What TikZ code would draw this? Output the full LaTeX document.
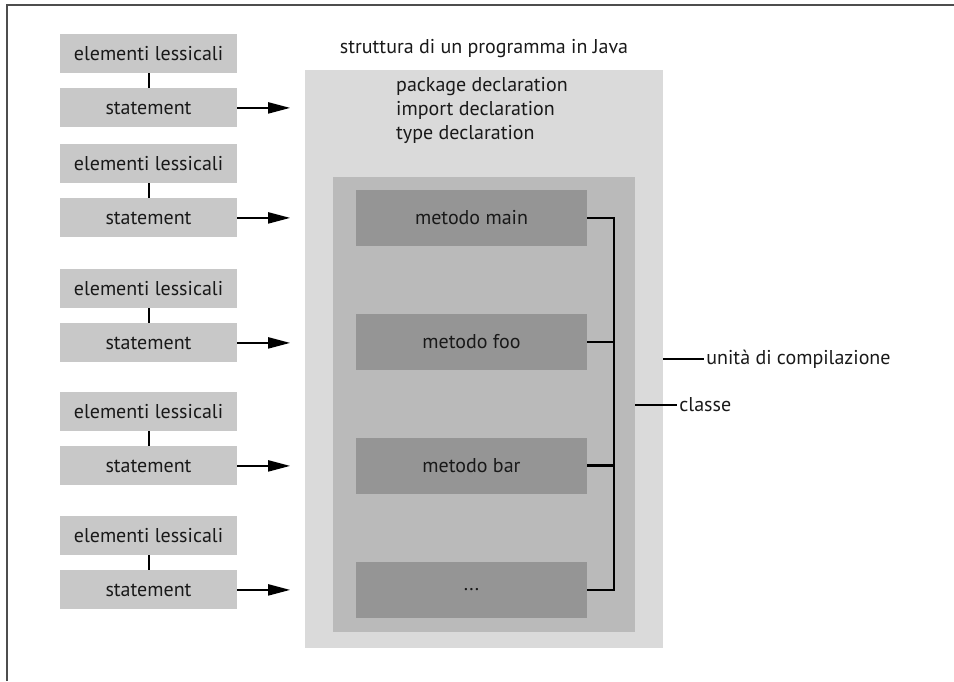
\documentclass[tikz,border=0pt]{standalone}
\usepackage{fontspec}
\setmainfont{PT Sans}
\usepackage{xcolor}
\usetikzlibrary{positioning, arrows.meta}

\definecolor{lexgray}{HTML}{C8C8C8}
\definecolor{unitgray}{HTML}{DADADA}
\definecolor{classgray}{HTML}{BABABA}
\definecolor{methodgray}{HTML}{959595}
\definecolor{framegray}{HTML}{4D4D4D}

\begin{document}
\begin{tikzpicture}[
    x = 1pt, y = -1pt,
    node distance = 15pt,
    every node/.style = {font=\fontsize{20}{24}\selectfont, text=black!90},
    lexbox/.style = {fill=lexgray, minimum width=177pt, minimum height=39pt, inner sep=0pt},
    methodbox/.style = {fill=methodgray, minimum width=231pt, minimum height=56pt, inner sep=0pt},
    link/.style = {line width=2pt},
    arr/.style = {line width=2pt, -{Triangle[length=22pt, width=11pt]}},
    brace/.style = {line width=2.5pt, line join=miter}
  ]
    \useasboundingbox (0,0) rectangle (954,681);
    \draw[framegray, line width=2pt] (7,681) -- (7,5) -- (954,5);  % cornice

    % unita' di compilazione e classe
    \node[fill=unitgray, minimum width=358pt, minimum height=578pt] (unit) at (484,359) {};
    \node[fill=classgray, minimum width=302pt, minimum height=455pt] (class) at (484,404.5) {};
    \node (title) at (484,49) {struttura di un programma in Java};
    \node[align=left, anchor=north west, inner sep=0pt] (decl) at (396,77)
        {package declaration\\import declaration\\type declaration};

    % metodi
    \node[methodbox] (main) at (471.5,218) {metodo main};
    \node[methodbox] (foo) at (471.5,342) {metodo foo};
    \node[methodbox] (bar) at (471.5,465.5) {metodo bar};
    \node[methodbox] (dots) at (471.5,590) {...};
    \draw[brace] (main.east) -- ++(27,0) |- (dots.east);
    \draw[brace] (foo.east) -- ++(27,0);
    \draw[brace] (bar.east) -- ++(27,0);

    \node[right=41pt of unit.east, inner sep=2pt] (unitlbl) {unità di compilazione};
    \node[right=42pt of class.east, inner sep=2pt] (classlbl) {classe};
    \draw[link] (unit.east) -- (unitlbl.west);
    \draw[link] (class.east) -- (classlbl.west);

    % colonna di sinistra
    \node[lexbox] (lex1) at (148.5,53.5) {elementi lessicali};
    \node[lexbox, below=of lex1] (stmt1) {statement};
    \node[lexbox] (lex2) at (148.5,163.5) {elementi lessicali};
    \node[lexbox, below=of lex2] (stmt2) {statement};
    \node[lexbox] (lex3) at (148.5,288.5) {elementi lessicali};
    \node[lexbox, below=of lex3] (stmt3) {statement};
    \node[lexbox] (lex4) at (148.5,411.5) {elementi lessicali};
    \node[lexbox, below=of lex4] (stmt4) {statement};
    \node[lexbox] (lex5) at (148.5,535.5) {elementi lessicali};
    \node[lexbox, below=of lex5] (stmt5) {statement};

    \draw[link] (lex1) -- (stmt1);
    \draw[link] (lex2) -- (stmt2);
    \draw[link] (lex3) -- (stmt3);
    \draw[link] (lex4) -- (stmt4);
    \draw[link] (lex5) -- (stmt5);

    \draw[arr] (stmt1.east) -- ++(53,0);
    \draw[arr] (stmt2.east) -- ++(53,0);
    \draw[arr] (stmt3.east) -- ++(53,0);
    \draw[arr] (stmt4.east) -- ++(53,0);
    \draw[arr] (stmt5.east) -- ++(53,0);
\end{tikzpicture}
\end{document}
